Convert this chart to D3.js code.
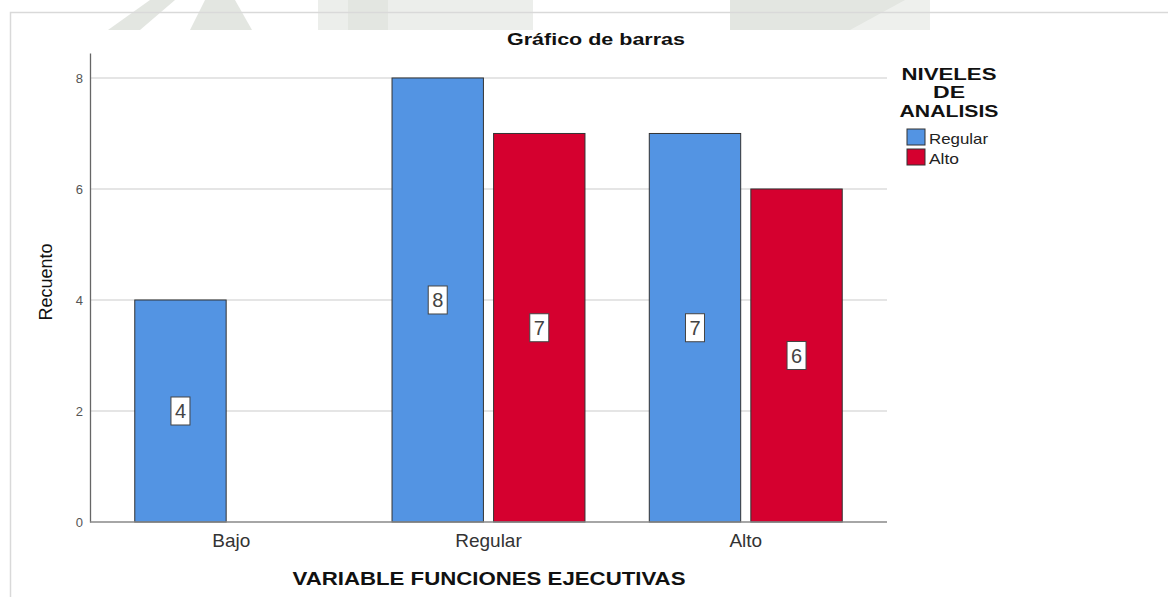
<!DOCTYPE html>
<html>
<head>
<meta charset="UTF-8">
<title>Gráfico de barras</title>
<script src="https://cdn.jsdelivr.net/npm/d3@7"></script>
<style>
body { margin:0; background:white; }
text { font-family: "Liberation Sans", Arial, sans-serif; }
</style>
</head>
<body>
<script type="text/javascript">
// values
var categories = ["Bajo", "Regular", "Alto"]
var series = ["Regular", "Alto"]
var regularValues = [4, 8, 7]
var altoValues = [null, 7, 6]
var yTicks = [0, 2, 4, 6, 8]
var colors = ["#5394e3", "#d5002f"]

var svg = d3.select("body")
 .append("svg")
 .attr("width", 1168)
 .attr("height", 597)
 .style("background", "white")

// faint watermark strip at the top
var wm = svg.append("g").attr("fill", "#e3e6e1")
wm.append("polygon").attr("points", "108,30 150,0 175,0 140,30")
wm.append("polygon").attr("points", "190,30 205,0 235,0 252,30")
wm.append("rect").attr("x", 318).attr("y", 0).attr("width", 215).attr("height", 30).attr("fill", "#eceeeb")
wm.append("rect").attr("x", 348).attr("y", 0).attr("width", 40).attr("height", 30)
wm.append("rect").attr("x", 730).attr("y", 0).attr("width", 200).attr("height", 30)
wm.append("polygon").attr("points", "850,30 905,0 930,0 930,30").attr("fill", "#eef0ed")

// outer frame
svg.append("path")
 .attr("d", "M1168,12.5H10.5V597")
 .attr("fill", "none")
 .attr("stroke", "#d9d9d9")
 .attr("stroke-width", 1.5)

var x0 = d3.scaleBand().domain(categories).range([90, 887]).paddingInner(0.25).paddingOuter(0.174)
var x1 = d3.scaleBand().domain(series).range([0, x0.bandwidth()]).paddingInner(0.1)
var y = d3.scaleLinear().domain([0, 8.45]).range([522, 53])

// gridlines
svg.append("g").selectAll("line")
 .data(yTicks.filter(function(d) { return d > 0 }))
 .enter().append("line")
 .attr("x1", 90).attr("x2", 887)
 .attr("y1", function(d) { return y(d) }).attr("y2", function(d) { return y(d) })
 .attr("stroke", "#dcdcdc")
 .attr("stroke-width", 1.5)

// y axis
var yAxis = svg.append("g")
 .attr("transform", "translate(90,0)")
 .call(d3.axisLeft(y).tickValues(yTicks).tickSize(0).tickPadding(7))
yAxis.select(".domain").attr("stroke", "#666").attr("stroke-width", 1.3)
yAxis.selectAll("text").attr("font-size", 13).attr("fill", "#555")

// bars
var rows = []
categories.forEach(function(c, i) {
    rows.push({cat: c, ser: series[0], v: regularValues[i], col: colors[0]})
    rows.push({cat: c, ser: series[1], v: altoValues[i], col: colors[1]})
})
rows = rows.filter(function(d) { return d.v != null })

svg.append("g").selectAll("rect")
 .data(rows).enter()
 .append("rect")
 .attr("x", function(d) { return x0(d.cat) + x1(d.ser) })
 .attr("y", function(d) { return y(d.v) })
 .attr("width", x1.bandwidth())
 .attr("height", function(d) { return y(0) - y(d.v) })
 .attr("fill", function(d) { return d.col })
 .attr("stroke", "#333")
 .attr("stroke-width", 1)

// baseline
svg.append("line")
 .attr("x1", 90).attr("x2", 887)
 .attr("y1", y(0)).attr("y2", y(0))
 .attr("stroke", "#888").attr("stroke-width", 1.5)

// value labels in the middle of each bar
var lab = svg.append("g").selectAll("g")
 .data(rows).enter()
 .append("g")
 .attr("transform", function(d) {
     return "translate(" + (x0(d.cat) + x1(d.ser) + x1.bandwidth() / 2) + "," + y(d.v / 2) + ")"
 })
lab.append("rect")
 .attr("x", -9.5).attr("y", -14).attr("width", 19).attr("height", 28)
 .attr("fill", "white").attr("stroke", "#444").attr("stroke-width", 1)
lab.append("text")
 .attr("text-anchor", "middle")
 .attr("dy", "0.36em")
 .attr("font-size", 20)
 .attr("fill", "#444")
 .text(function(d) { return d.v })

// x axis labels
svg.append("g").selectAll("text")
 .data(categories).enter()
 .append("text")
 .attr("x", function(d) { return x0(d) + x0.bandwidth() / 2 })
 .attr("y", 547)
 .attr("text-anchor", "middle")
 .attr("font-size", 19)
 .attr("fill", "#333")
 .text(function(d) { return d })

svg.append("text")
 .attr("x", 489).attr("y", 585)
 .attr("text-anchor", "middle")
 .attr("font-size", 18).attr("font-weight", "bold")
 .attr("textLength", 393).attr("lengthAdjust", "spacingAndGlyphs")
 .attr("fill", "#111")
 .text("VARIABLE FUNCIONES EJECUTIVAS")

svg.append("text")
 .attr("transform", "translate(52,282) rotate(-90)")
 .attr("text-anchor", "middle")
 .attr("font-size", 18)
 .attr("fill", "#111")
 .text("Recuento")

svg.append("text")
 .attr("x", 596).attr("y", 45)
 .attr("text-anchor", "middle")
 .attr("font-size", 17).attr("font-weight", "bold")
 .attr("textLength", 178).attr("lengthAdjust", "spacingAndGlyphs")
 .attr("fill", "#111")
 .text("Gráfico de barras")

// legend
var legTitle = [["NIVELES", 80, 95], ["DE", 98, 32], ["ANALISIS", 117, 99]]
svg.append("g").selectAll("text")
 .data(legTitle).enter()
 .append("text")
 .attr("x", 949).attr("y", function(d) { return d[1] })
 .attr("text-anchor", "middle")
 .attr("font-size", 16.5).attr("font-weight", "bold")
 .attr("textLength", function(d) { return d[2] }).attr("lengthAdjust", "spacingAndGlyphs")
 .attr("fill", "#111")
 .text(function(d) { return d[0] })

var leg = svg.append("g").selectAll("g")
 .data(series).enter()
 .append("g")
 .attr("transform", function(d, i) { return "translate(907," + (129 + i * 20) + ")" })
leg.append("rect")
 .attr("width", 18).attr("height", 16)
 .attr("fill", function(d, i) { return colors[i] })
 .attr("stroke", "#333")
leg.append("text")
 .attr("x", 22).attr("y", 15)
 .attr("font-size", 15)
 .attr("textLength", function(d, i) { return [59, 30][i] }).attr("lengthAdjust", "spacingAndGlyphs")
 .attr("fill", "#222")
 .text(function(d) { return d })
</script>
</body>
</html>
